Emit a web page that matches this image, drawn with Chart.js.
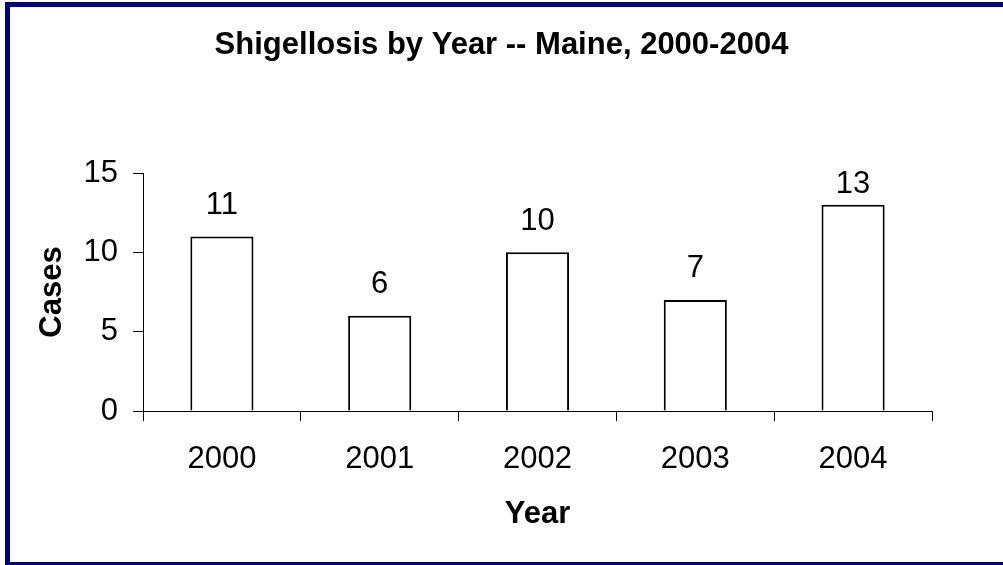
<!DOCTYPE html>
<html>
<head>
<meta charset="utf-8">
<script src="https://cdn.jsdelivr.net/npm/chart.js@4/dist/chart.umd.min.js"></script>
<style>
  html, body { margin: 0; padding: 0; background: #fff; overflow: hidden; }
  canvas { display: block; }
</style>
</head>
<body>
<canvas id="c" width="1003" height="565"></canvas>
<script>
const chartTitle = "Shigellosis by Year -- Maine, 2000-2004";
const categories = ["2000", "2001", "2002", "2003", "2004"];
const cases = [11, 6, 10, 7, 13];
const yTicks = [0, 5, 10, 15];
const xAxisTitle = "Year";
const yAxisTitle = "Cases";

const FONT = "'Liberation Sans', Arial, Helvetica, sans-serif";
const FS = 31;

const frame = {
  id: 'frame',
  afterDraw(chart) {
    const ctx = chart.ctx;
    ctx.save();
    ctx.strokeStyle = '#000080';
    ctx.lineWidth = 5;
    ctx.strokeRect(7.5, 4.5, 1010, 560);
    ctx.restore();
  }
};

const valueLabels = {
  id: 'valueLabels',
  afterDatasetsDraw(chart) {
    const ctx = chart.ctx;
    const meta = chart.getDatasetMeta(0);
    const minY = chart.chartArea.top + 11;
    ctx.save();
    ctx.font = FS + "px " + FONT;
    ctx.fillStyle = '#000';
    ctx.textAlign = 'center';
    ctx.textBaseline = 'middle';
    meta.data.forEach((bar, i) => {
      ctx.fillText(String(cases[i]), bar.x, Math.max(bar.y - 31, minY));
    });
    ctx.restore();
  }
};

new Chart(document.getElementById('c'), {
  type: 'bar',
  data: {
    labels: categories,
    datasets: [{
      data: cases,
      backgroundColor: '#ffffff',
      borderColor: '#000000',
      borderWidth: 2,
      barPercentage: 0.4,
      categoryPercentage: 1.0
    }]
  },
  options: {
    responsive: false,
    animation: false,
    devicePixelRatio: 1,
    layout: { padding: 0 },
    plugins: {
      legend: { display: false },
      tooltip: { enabled: false },
      title: {
        display: true,
        text: chartTitle,
        color: '#000',
        font: { family: FONT, size: FS, weight: 'bold', lineHeight: 1.2 },
        padding: { top: 26.4, bottom: 109.4 }
      }
    },
    scales: {
      x: {
        grid: {
          display: true,
          offset: true,
          drawOnChartArea: false,
          drawTicks: true,
          tickLength: 10,
          color: '#000',
          lineWidth: 1
        },
        border: { display: true, color: '#000', width: 1 },
        ticks: {
          color: '#000',
          font: { family: FONT, size: FS },
          padding: 20,
          maxRotation: 0
        },
        title: {
          display: true,
          text: xAxisTitle,
          color: '#000',
          font: { family: FONT, size: FS, weight: 'bold', lineHeight: 1.2 },
          padding: { top: 0, bottom: 32.4 }
        },
        afterFit(scale) { scale.height = 154; }
      },
      y: {
        min: 0,
        max: 15,
        grid: {
          display: true,
          drawOnChartArea: false,
          drawTicks: true,
          tickLength: 10,
          color: '#000',
          lineWidth: 1
        },
        border: { display: true, color: '#000', width: 1 },
        afterBuildTicks(scale) {
          scale.ticks = yTicks.map(v => ({ value: v }));
        },
        ticks: {
          color: '#000',
          font: { family: FONT, size: FS },
          padding: 15
        },
        title: {
          display: true,
          text: yAxisTitle,
          color: '#000',
          font: { family: FONT, size: FS, weight: 'bold', lineHeight: 1.2 },
          padding: { top: 33.4, bottom: 0 }
        },
        afterFit(scale) { scale.width = 143; }
      },
      yRight: {
        position: 'right',
        display: true,
        min: 0,
        max: 15,
        grid: { display: false, drawTicks: false },
        border: { display: false },
        ticks: { display: false },
        afterFit(scale) { scale.width = 71; }
      }
    }
  },
  plugins: [valueLabels, frame]
});
</script>
</body>
</html>
